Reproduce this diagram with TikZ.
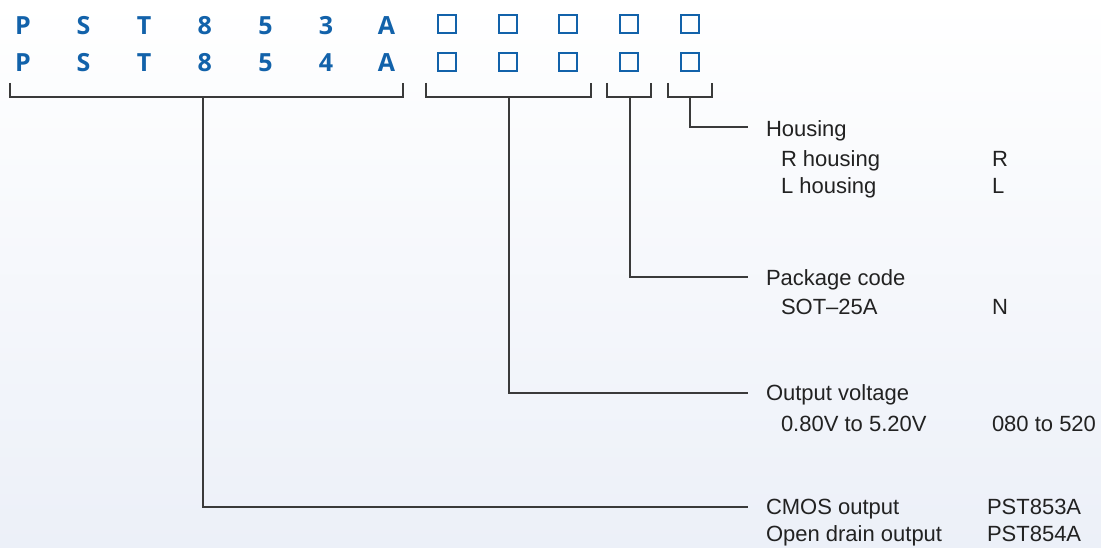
\documentclass[tikz,border=0pt]{standalone}
\usepackage{fontspec}
\setmainfont{Liberation Sans}
\newfontfamily\codefont{Open Sans}
\usetikzlibrary{positioning}
\definecolor{codeblue}{RGB}{18,98,170}
\definecolor{leadgray}{RGB}{58,58,58}
\definecolor{bgblue}{RGB}{236,240,248}
\definecolor{txtgray}{RGB}{34,34,34}

\begin{document}
\begin{tikzpicture}[x=1pt,y=-1pt,
  every node/.style={inner sep=0pt,outer sep=0pt},
  codechar/.style={font=\codefont\bfseries\fontsize{25}{30}\selectfont,text=codeblue,anchor=base},
  slot/.style={draw=codeblue,line width=2pt,minimum size=18pt},
  lead/.style={draw=leadgray,line width=1.8pt},
  desc/.style={font=\fontsize{22}{26}\selectfont,text=txtgray,anchor=base west}]
\useasboundingbox (0,0) rectangle (1101,548);
\shade[top color=white,bottom color=bgblue] (0,0) rectangle (1101,548);
% part number, two rows
\foreach \ch [count=\i from 0] in {P,S,T,8,5,3,A}
  \node[codechar] (ra\i) at (23+60.6*\i,35) {\ch};
\foreach \ch [count=\i from 0] in {P,S,T,8,5,4,A}
  \node[codechar] (rb\i) at (23+60.6*\i,72) {\ch};
\foreach \i in {7,...,11} {
  \node[slot] (sa\i) at (23+60.6*\i,24) {};
  \node[slot] (sb\i) at (23+60.6*\i,62) {};
}
% brackets
\draw[lead] (10,83) -- (10,97) -- (403,97) -- (403,83);
\draw[lead] (426,83) -- (426,97) -- (591,97) -- (591,83);
\draw[lead] (607,83) -- (607,97) -- (651,97) -- (651,83);
\draw[lead] (668,83) -- (668,97) -- (712,97) -- (712,83);
\coordinate (k1) at (203,97);
\coordinate (k2) at (509,97);
\coordinate (k3) at (630,97);
\coordinate (k4) at (690,97);
\coordinate (e1) at (748,507);
\coordinate (e2) at (748,393);
\coordinate (e3) at (748,277);
\coordinate (e4) at (748,127);
% descriptions
\node[desc] (hsg) at (766,137) {Housing};
\node[desc] (hsgr) at (781,167) {R housing};
\node[desc] (hsgl) at (781,194) {L housing};
\node[desc] (valr) at (992,167) {R};
\node[desc] (vall) at (992,194) {L};
\node[desc] (pkg) at (766,286) {Package code};
\node[desc] (pkgs) at (781,315) {SOT–25A};
\node[desc] (pkgn) at (992,315) {N};
\node[desc] (vlt) at (766,400) {Output voltage};
\node[desc] (vltr) at (781,431) {0.80V to 5.20V};
\node[desc] (vltc) at (992,431) {080 to 520};
\node[desc] (out) at (766,514) {CMOS output};
\node[desc] (outo) at (766,541) {Open drain output};
\node[desc] (outc) at (987,514) {PST853A};
\node[desc] (outd) at (987,541) {PST854A};
% leaders
\draw[lead] (k1) |- (e1);
\draw[lead] (k2) |- (e2);
\draw[lead] (k3) |- (e3);
\draw[lead] (k4) |- (e4);
\end{tikzpicture}
\end{document}
